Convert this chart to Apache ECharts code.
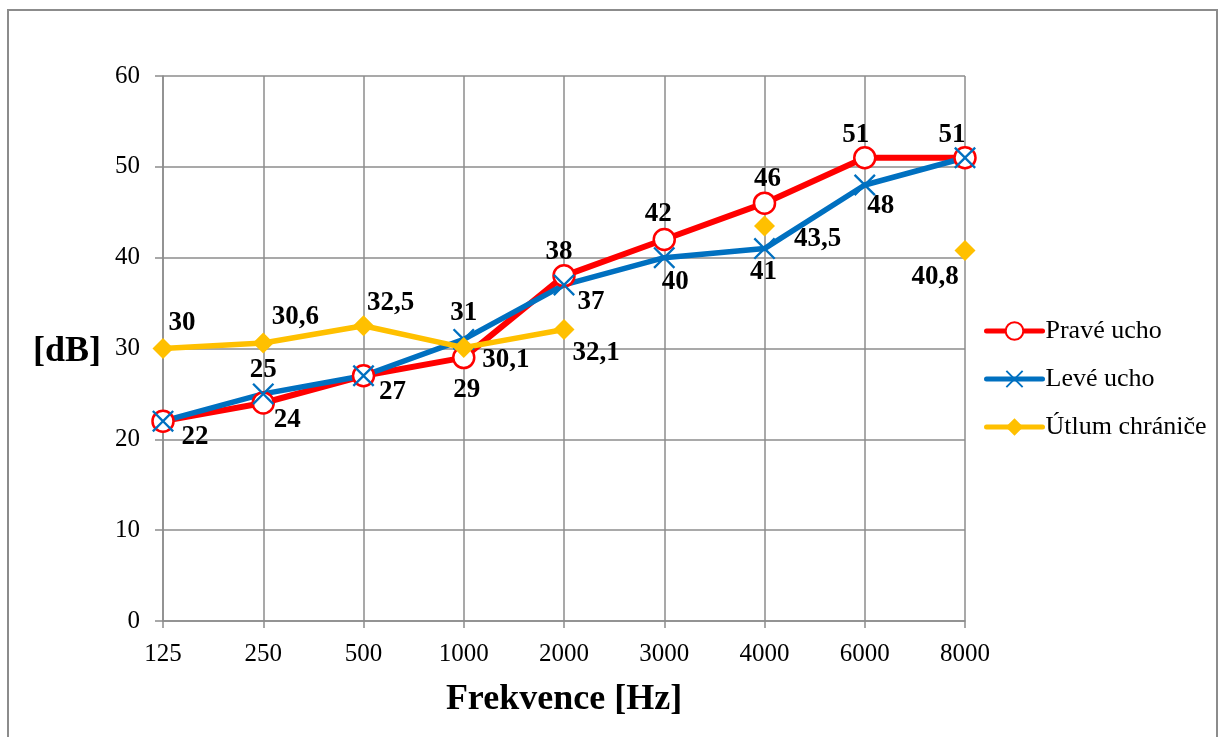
<!DOCTYPE html>
<html>
<head>
<meta charset="utf-8">
<script src="https://cdn.jsdelivr.net/npm/echarts@6/dist/echarts.min.js"></script>
<style>
html,body{margin:0;padding:0;background:#fff;}
#chart{width:1225px;height:737px;}
</style>
</head>
<body>
<div id="chart"></div>
<script>
// ---- data ----
const categories = ['125','250','500','1000','2000','3000','4000','6000','8000'];
const praveUcho = [22, 24, 27, 29, 38, 42, 46, 51, 51];
const leveUcho  = [22, 25, 27, 31, 37, 40, 41, 48, 51];
const utlum     = [30, 30.6, 32.5, 30.1, 32.1, null, 43.5, null, 40.8];
const seriesNames = ['Pravé ucho', 'Levé ucho', 'Útlum chrániče'];
const yTicks = {min: 0, max: 60, interval: 10};

// ---- label placement (style: pixel offsets from point, null = hidden) ----
const redLabelOffsets = [[32,16],[24,17],[29,16],[3,32],[-5,-24],[-6,-25],[3,-24],[-9,-23],[-13,-23]];
const blueLabelOffsets = [null,[0,-24],null,[0,-26],[27,17],[11,24],[-1,23],[16,21],null];
const yellowLabelOffsets = [[19,-25],[32,-26],[27,-23],[42,12],[32,24],null,[53,13],null,[-30,27]];

const FONT = '"Liberation Serif","Times New Roman",serif';
const fmt = v => String(v).replace('.', ',');

function build(values, offsets) {
  return values.map((v, i) => {
    const off = offsets[i];
    if (v === null) return null;
    return {
      value: v,
      label: off ? {show: true, position: 'inside', offset: off} : {show: false}
    };
  });
}

const labelStyle = {
  show: true,
  color: '#000',
  fontFamily: FONT,
  fontWeight: 'bold',
  fontSize: 27,
  formatter: p => fmt(p.value)
};

const xPath = 'path://M1.5,0 L10,8.5 L18.5,0 L20,1.5 L11.5,10 L20,18.5 L18.5,20 L10,11.5 L1.5,20 L0,18.5 L8.5,10 L0,1.5 Z';

const chart = echarts.init(document.getElementById('chart'), null, {renderer: 'canvas'});
chart.setOption({
  animation: false,
  backgroundColor: '#fff',
  grid: {left: 163, right: 260, top: 76, bottom: 116, containLabel: false},
  xAxis: {
    type: 'category',
    data: categories,
    boundaryGap: false,
    axisLine: {show: true, lineStyle: {color: '#8c8c8c', width: 1.5}},
    axisTick: {show: true, length: 7, alignWithLabel: true, lineStyle: {color: '#8c8c8c', width: 1.5}},
    axisLabel: {color: '#000', fontFamily: FONT, fontSize: 25, margin: 21},
    splitLine: {show: true, lineStyle: {color: '#8c8c8c', width: 1.5}}
  },
  yAxis: {
    type: 'value',
    min: yTicks.min, max: yTicks.max, interval: yTicks.interval,
    axisLine: {show: true, lineStyle: {color: '#8c8c8c', width: 1.5}},
    axisTick: {show: true, length: 8, lineStyle: {color: '#8c8c8c', width: 1.5}},
    axisLabel: {color: '#000', fontFamily: FONT, fontSize: 25, margin: 23},
    splitLine: {show: true, lineStyle: {color: '#8c8c8c', width: 1.5}}
  },
  legend: {
    orient: 'vertical',
    left: 984,
    top: 317,
    padding: 0,
    itemWidth: 56,
    itemHeight: 22,
    itemGap: 20,
    lineStyle: {width: 5, cap: 'round'},
    textStyle: {color: '#000', fontFamily: FONT, fontSize: 26, lineHeight: 28, padding: [0,0,0,-2]},
    data: seriesNames
  },
  graphic: [
    {type: 'rect', shape: {x: 8, y: 10, width: 1209, height: 740}, style: {fill: 'none', stroke: '#8c8c8c', lineWidth: 2}, silent: true},
    {type: 'text', x: 564, y: 700, style: {text: 'Frekvence [Hz]', font: 'bold 36px ' + FONT, fill: '#000', textAlign: 'center', textVerticalAlign: 'middle'}},
    {type: 'text', x: 67, y: 352, style: {text: '[dB]', font: 'bold 36px ' + FONT, fill: '#000', textAlign: 'center', textVerticalAlign: 'middle'}}
  ],
  series: [
    {
      name: seriesNames[0],
      type: 'line',
      data: build(praveUcho, redLabelOffsets),
      symbol: 'circle',
      symbolSize: 21,
      lineStyle: {color: '#FF0000', width: 6},
      itemStyle: {color: '#FFFFFF', borderColor: '#FF0000', borderWidth: 2.5},
      label: labelStyle
    },
    {
      name: seriesNames[1],
      type: 'line',
      data: build(leveUcho, blueLabelOffsets),
      symbol: xPath,
      symbolSize: 22,
      symbolKeepAspect: true,
      lineStyle: {color: '#0070C0', width: 5.5},
      itemStyle: {color: '#0070C0'},
      label: labelStyle
    },
    {
      name: seriesNames[2],
      type: 'line',
      data: build(utlum, yellowLabelOffsets),
      symbol: 'diamond',
      symbolSize: 21,
      connectNulls: false,
      showAllSymbol: true,
      lineStyle: {color: '#FFC000', width: 5.5},
      itemStyle: {color: '#FFC000'},
      label: labelStyle
    }
  ]
});
</script>
</body>
</html>
